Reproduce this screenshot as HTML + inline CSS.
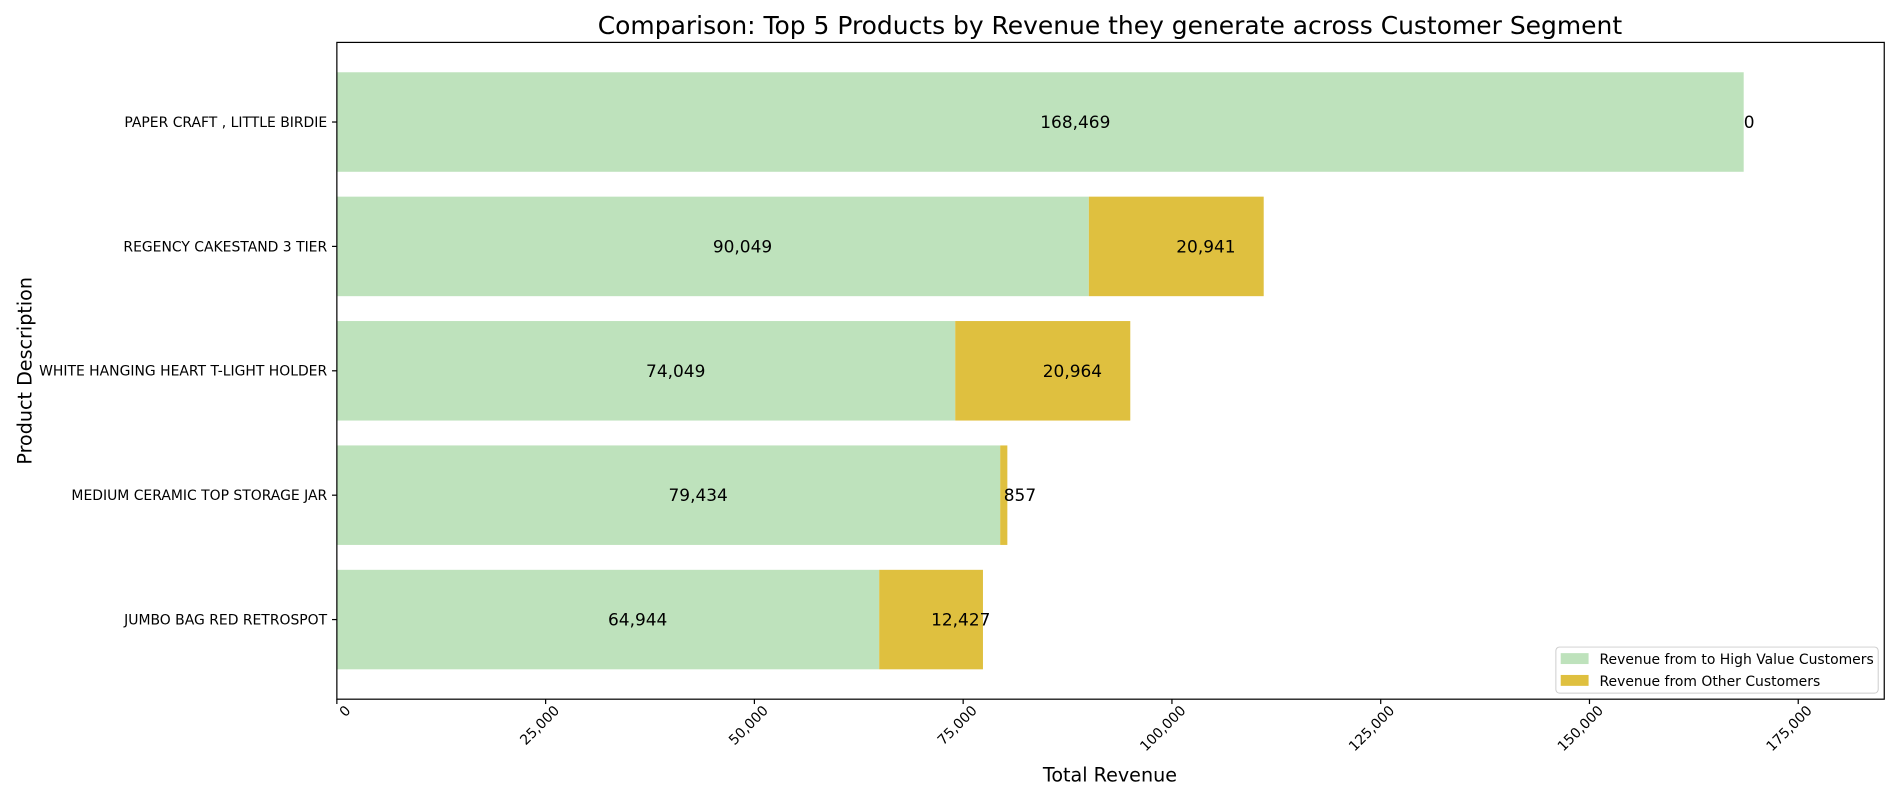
<!DOCTYPE html>
<html><head><meta charset="utf-8">
<style>
html,body{margin:0;padding:0;background:#fff;}
svg{display:block;font-family:"DejaVu Sans","Liberation Sans",sans-serif;}
</style></head>
<body>
<svg id="chart" width="1900" height="800" viewBox="0 0 1568 660.2" preserveAspectRatio="none" xmlns="http://www.w3.org/2000/svg">
<text x="916" y="28" font-size="20.6" text-anchor="middle">Comparison: Top 5 Products by Revenue they generate across Customer Segment</text>
<g id="plot"></g>
<rect x="278" y="35" width="1277" height="542" fill="none" stroke="#000" stroke-width="1"/>
<text x="916" y="645" font-size="15.8" text-anchor="middle">Total Revenue</text>
<text transform="translate(26,306) rotate(-90)" font-size="15.8" text-anchor="middle">Product Description</text>
<g>
<rect x="1284" y="534" width="266" height="38" rx="3" fill="#fff" stroke="#ccc" stroke-width="0.8"/>
<rect x="1288" y="539" width="23" height="9" fill="#bee2bc"/>
<text x="1320" y="548" font-size="11.5">Revenue from to High Value Customers</text>
<rect x="1288" y="557" width="23" height="9" fill="#dfc03f"/>
<text x="1320" y="566" font-size="11.5">Revenue from Other Customers</text>
</g>
</svg>
<script>
const categories = ["PAPER CRAFT , LITTLE BIRDIE","REGENCY CAKESTAND 3 TIER","WHITE HANGING HEART T-LIGHT HOLDER","MEDIUM CERAMIC TOP STORAGE JAR","JUMBO BAG RED RETROSPOT"];
const highValue = [168469, 90049, 74049, 79434, 64944];
const otherValue = [0, 20941, 20964, 857, 12427];
const xTicks = [0, 25000, 50000, 75000, 100000, 125000, 150000, 175000];

const NS = "http://www.w3.org/2000/svg";
const L = 278, R = 1555, T = 35, B = 577, XMAX = 185300;
const xs = v => L + v / XMAX * (R - L);
const YMIN = -0.64, YMAX = categories.length - 1 + 0.64;
const band = (B - T) / (YMAX - YMIN);
const ys = i => T + (i - YMIN) * band;
const bh = band * 0.8;
const fmt = v => v.toLocaleString("en-US");
const g = document.getElementById("plot");
function mk(tag, attrs, txt) {
  const e = document.createElementNS(NS, tag);
  for (const k in attrs) e.setAttribute(k, attrs[k]);
  if (txt !== undefined) e.textContent = txt;
  g.appendChild(e);
  return e;
}
categories.forEach((c, i) => {
  const y = ys(i);
  const b1 = mk("rect", {x: xs(0), y: y - bh / 2, width: xs(highValue[i]) - xs(0), height: bh, fill: "#bee2bc"});
  
  
  const b2 = mk("rect", {x: xs(highValue[i]), y: y - bh / 2, width: xs(highValue[i] + otherValue[i]) - xs(highValue[i]), height: bh, fill: "#dfc03f"});
  
  
  const l1 = mk("text", {x: xs(highValue[i] / 2), y: y + 5, "font-size": 14, "text-anchor": "start"}, fmt(highValue[i]));
  
  
  const l2 = mk("text", {x: xs(highValue[i] + otherValue[i] / 2), y: y + 5, "font-size": 14, "text-anchor": "start"}, fmt(otherValue[i]));
  
  
  const tk = mk("line", {x1: L - 4, x2: L, y1: y, y2: y, stroke: "#000"});
  
  
  const tl = mk("text", {x: L - 8, y: y + 4, "font-size": 11.5, "text-anchor": "end"}, c);
  
  
});
xTicks.forEach(v => {
  const x = xs(v);
  const tk = mk("line", {x1: x, x2: x, y1: B, y2: B + 4, stroke: "#000"});
  
  
  const tl = mk("text", {transform: `translate(${x + 12},${B + 10}) rotate(-45)`, "font-size": 11.5, "text-anchor": "end"}, fmt(v));
  
  
});
</script>
</body></html>
